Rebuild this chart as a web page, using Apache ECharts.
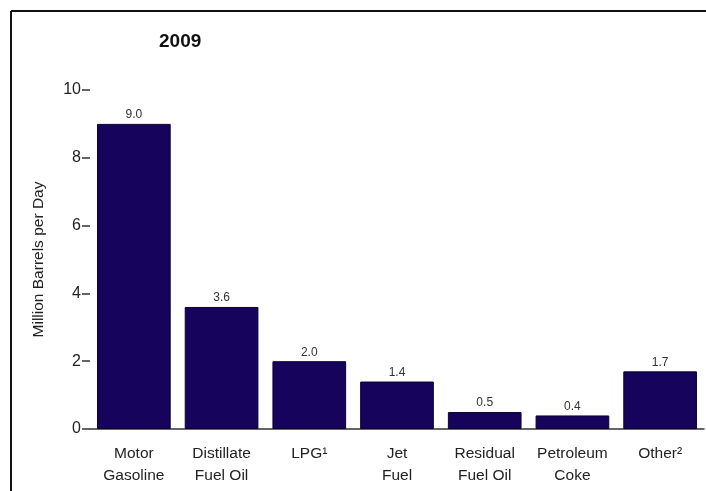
<!DOCTYPE html>
<html>
<head>
<meta charset="utf-8">
<script src="https://cdn.jsdelivr.net/npm/echarts@6/dist/echarts.min.js"></script>
<style>
html,body{margin:0;padding:0;background:#fff;}
#chart{width:706px;height:491px;}
</style>
</head>
<body>
<div id="chart"></div>
<script>
const categories = ['Motor\nGasoline', 'Distillate\nFuel Oil', 'LPG\u00b9', 'Jet\nFuel', 'Residual\nFuel Oil', 'Petroleum\nCoke', 'Other\u00b2'];
const values = [9.0, 3.6, 2.0, 1.4, 0.5, 0.4, 1.7];
const yTicks = [0, 2, 4, 6, 8, 10];
const chartTitle = '2009';
const yAxisTitle = 'Million Barrels per Day';

const FONT = 'Liberation Sans, Arial, sans-serif';
const chart = echarts.init(document.getElementById('chart'));
chart.setOption({
  animation: false,
  backgroundColor: '#fff',
  title: {
    text: chartTitle,
    left: 154, top: 27,
    textStyle: {fontFamily: FONT, fontSize: 19, fontWeight: 'bold', color: '#111'}
  },
  grid: {left: 90, right: 2, top: 90, bottom: 62},
  xAxis: {
    type: 'category',
    data: categories,
    axisLine: {show: true, lineStyle: {color: '#333', width: 1.5}},
    axisTick: {show: false},
    axisLabel: {
      interval: 0, margin: 14, lineHeight: 22,
      fontFamily: FONT, fontSize: 15.5, color: '#222'
    }
  },
  yAxis: {
    type: 'value',
    min: yTicks[0], max: yTicks[yTicks.length - 1], interval: 2,
    name: yAxisTitle,
    nameLocation: 'middle',
    nameGap: 43,
    nameTextStyle: {fontFamily: FONT, fontSize: 15.5, color: '#222'},
    axisLine: {show: false},
    axisTick: {show: true, length: 8, lineStyle: {color: '#333', width: 1.5}},
    splitLine: {show: false},
    axisLabel: {margin: 9, fontFamily: FONT, fontSize: 16, color: '#222'}
  },
  series: [{
    type: 'bar',
    data: values,
    barCategoryGap: '16%',
    itemStyle: {color: '#15035c', borderColor: '#0b0035', borderWidth: 1},
    label: {
      show: true, position: 'top', distance: 3,
      formatter: p => p.value.toFixed(1),
      fontFamily: FONT, fontSize: 12, color: '#333'
    }
  }],
  graphic: [
    {type: 'line', shape: {x1: 11, y1: 11, x2: 706, y2: 11}, style: {stroke: '#111', lineWidth: 2}},
    {type: 'line', shape: {x1: 11, y1: 11, x2: 11, y2: 491}, style: {stroke: '#111', lineWidth: 2}}
  ]
});
</script>
</body>
</html>
